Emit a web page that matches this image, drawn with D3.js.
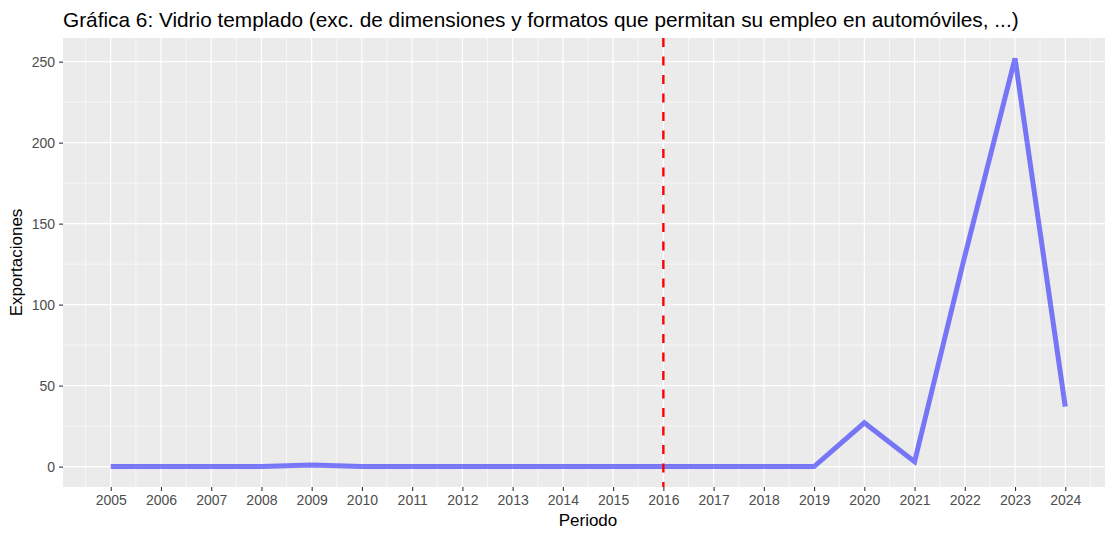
<!DOCTYPE html>
<html>
<head>
<meta charset="utf-8">
<script src="https://cdn.jsdelivr.net/npm/d3@7"></script>
<style>
  html, body { margin: 0; padding: 0; background: #ffffff; }
  svg { display: block; }
</style>
</head>
<body>
<svg id="chart" width="1105" height="533"></svg>
<script>
// ---- data ----
const years = [2005, 2006, 2007, 2008, 2009, 2010, 2011, 2012, 2013, 2014,
               2015, 2016, 2017, 2018, 2019, 2020, 2021, 2022, 2023, 2024];
const exportaciones = [0, 0, 0, 0, 1, 0, 0, 0, 0, 0,
                       0, 0, 0, 0, 0, 27, 3, 130, 252, 37];
const yTicks = [0, 50, 100, 150, 200, 250];
const yMinor = [25, 75, 125, 175, 225];
const markerYear = 2016;
const titleText = "Gráfica 6: Vidrio templado (exc. de dimensiones y formatos que permitan su empleo en automóviles, ...)";
const xTitle = "Periodo";
const yTitle = "Exportaciones";

// ---- layout ----
const W = 1105, H = 533;
const panel = { left: 63, top: 38, right: 1113, bottom: 487 };

const svg = d3.select("#chart");
const font = "'Liberation Sans', Arial, sans-serif";

// scales with ggplot-style 5% expansion
const xMin = d3.min(years), xMax = d3.max(years);
const xPad = (xMax - xMin) * 0.05;
const x = d3.scaleLinear().domain([xMin - xPad, xMax + xPad]).range([panel.left, panel.right]);
const yLo = d3.min(exportaciones), yHi = d3.max(exportaciones);
const yPad = (yHi - yLo) * 0.05;
const y = d3.scaleLinear().domain([yLo - yPad, yHi + yPad]).range([panel.bottom, panel.top]);

const xMinor = years.map(d => d - 0.5).concat([xMax + 0.5]);

// panel background
svg.append("rect")
  .attr("x", panel.left).attr("y", panel.top)
  .attr("width", panel.right - panel.left).attr("height", panel.bottom - panel.top)
  .attr("fill", "#EBEBEB");

const grid = svg.append("g");
// minor grid
grid.selectAll(".hminor").data(yMinor).enter().append("line")
  .attr("x1", panel.left).attr("x2", panel.right)
  .attr("y1", d => y(d)).attr("y2", d => y(d))
  .attr("stroke", "#ffffff").attr("stroke-width", 0.6);
grid.selectAll(".vminor").data(xMinor).enter().append("line")
  .attr("y1", panel.top).attr("y2", panel.bottom)
  .attr("x1", d => x(d)).attr("x2", d => x(d))
  .attr("stroke", "#ffffff").attr("stroke-width", 0.6);
// major grid
grid.selectAll(".hmajor").data(yTicks).enter().append("line")
  .attr("x1", panel.left).attr("x2", panel.right)
  .attr("y1", d => y(d)).attr("y2", d => y(d))
  .attr("stroke", "#ffffff").attr("stroke-width", 1.2);
grid.selectAll(".vmajor").data(years).enter().append("line")
  .attr("y1", panel.top).attr("y2", panel.bottom)
  .attr("x1", d => x(d)).attr("x2", d => x(d))
  .attr("stroke", "#ffffff").attr("stroke-width", 1.2);

// data line
const line = d3.line().x((d, i) => x(years[i])).y(d => y(d));
svg.append("path")
  .datum(exportaciones)
  .attr("d", line)
  .attr("fill", "none")
  .attr("stroke", "blue")
  .attr("stroke-opacity", 0.5)
  .attr("stroke-width", 5)
  .attr("stroke-linejoin", "miter")
  .attr("stroke-linecap", "butt");

// vertical dashed marker
svg.append("line")
  .attr("x1", x(markerYear)).attr("x2", x(markerYear))
  .attr("y1", panel.top).attr("y2", panel.bottom)
  .attr("stroke", "red").attr("stroke-width", 2.4)
  .attr("stroke-dasharray", "9,9.5");

// axes
const xAxis = d3.axisBottom(x).tickValues(years).tickFormat(d3.format("d")).tickSize(4).tickPadding(4);
const gx = svg.append("g").attr("transform", `translate(0,${panel.bottom})`).call(xAxis);
gx.select(".domain").remove();
gx.selectAll(".tick line").attr("stroke", "#333333").attr("stroke-width", 1.1);
gx.selectAll(".tick text").attr("fill", "#4D4D4D").style("font-family", font).style("font-size", "14px");

const yAxis = d3.axisLeft(y).tickValues(yTicks).tickFormat(d3.format("d")).tickSize(4).tickPadding(4);
const gy = svg.append("g").attr("transform", `translate(${panel.left},0)`).call(yAxis);
gy.select(".domain").remove();
gy.selectAll(".tick line").attr("stroke", "#333333").attr("stroke-width", 1.1);
gy.selectAll(".tick text").attr("fill", "#4D4D4D").style("font-family", font).style("font-size", "14px");

// titles
svg.append("text")
  .attr("x", panel.left).attr("y", 26.5)
  .style("font-family", font).style("font-size", "20.8px")
  .attr("fill", "#000000")
  .text(titleText);

svg.append("text")
  .attr("x", (panel.left + panel.right) / 2).attr("y", 526)
  .attr("text-anchor", "middle")
  .style("font-family", font).style("font-size", "17px")
  .attr("fill", "#000000")
  .text(xTitle);

svg.append("text")
  .attr("transform", `translate(22,${(panel.top + panel.bottom) / 2}) rotate(-90)`)
  .attr("text-anchor", "middle")
  .style("font-family", font).style("font-size", "17px")
  .attr("fill", "#000000")
  .text(yTitle);
</script>
</body>
</html>
